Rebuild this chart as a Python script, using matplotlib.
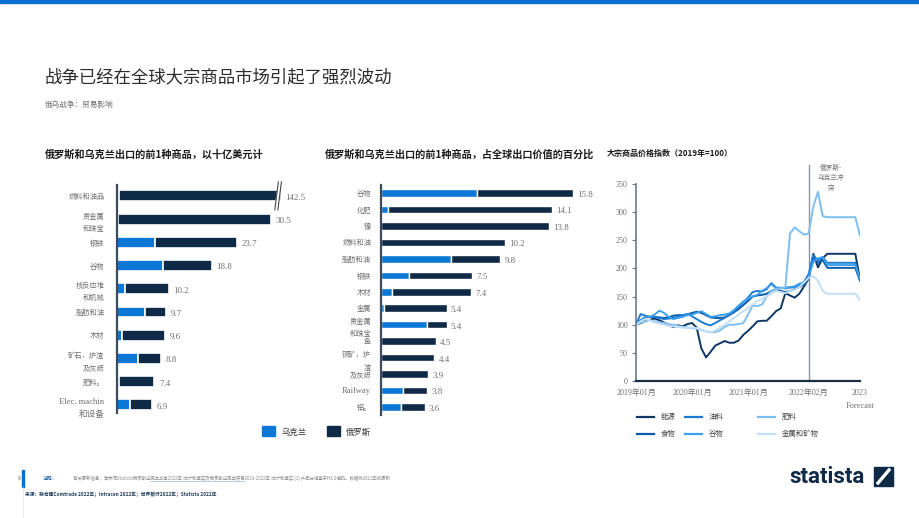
import matplotlib.pyplot as plt
import numpy as np
from matplotlib.patches import Rectangle, Polygon
from matplotlib.lines import Line2D

plt.rcParams['font.family'] = ['Noto Sans CJK SC', 'DejaVu Sans']
SERIF = ['Liberation Serif', 'Noto Sans CJK SC']

UA = '#0b78d6'
RU = '#0f2a47'
GRAY = '#6f6f6f'

# chart 1: top exports, billion USD
labels1 = ['燃料和油品', '贵金属\n和珠宝', '钢铁', '谷物', '核反应堆\n和机械', '脂肪和油',
           '木材', '矿石，炉渣\n及灰烬', '肥料。', 'Elec. machin\n和设备']
ua1 = [0.4, 0.1, 7.5, 9.2, 1.6, 5.5, 1.0, 4.2, 0.3, 2.6]
ru1 = [142.1, 30.4, 16.2, 9.6, 8.6, 4.2, 8.6, 4.6, 7.1, 4.3]

# chart 2: share of global export value, %
labels2 = ['谷物', '化肥', '镍', '燃料和油', '脂肪和油', '钢铁', '木材', '金属',
           '贵金属\n和珠宝', '鱼', '铜矿，炉\n渣', '及灰烬', 'Railway', '铝。']
ua2 = [7.9, 0.6, 0.0, 0.0, 5.8, 2.3, 0.9, 0.25, 3.8, 0.0, 0.0, 0.0, 1.8, 1.65]
ru2 = [7.9, 13.5, 13.8, 10.2, 4.0, 5.2, 6.5, 5.15, 1.6, 4.5, 4.4, 3.9, 2.0, 1.95]

# chart 3: commodity price index (2019=100), months from 2019-01
months = list(range(49))
energy = [100, 103, 107, 109, 111, 108, 104, 99, 96, 99, 97, 101,
          103, 95, 58, 42, 52, 63, 67, 71, 68, 68, 72, 82,
          89, 97, 106, 107, 107, 115, 124, 129, 156, 152, 148, 155,
          168, 182, 226, 202, 218, 226, 226, 226, 226, 226, 226, 226, 180]
food = [100, 108, 113, 114, 114, 113, 112, 113, 116, 117, 117, 118,
        121, 123, 121, 117, 113, 112, 112, 113, 117, 122, 128, 135,
        142, 150, 152, 153, 155, 160, 163, 160, 158, 160, 163, 167,
        172, 185, 220, 210, 215, 201, 201, 201, 201, 201, 201, 201, 178]
oils = [100, 119, 116, 114, 114, 112, 110, 111, 112, 114, 117, 119,
        115, 110, 105, 101, 99, 103, 108, 112, 118, 124, 132, 140,
        148, 158, 160, 159, 163, 174, 166, 165, 166, 166, 167, 170,
        176, 190, 224, 214, 220, 210, 210, 210, 210, 210, 210, 210, 179]
grain = [100, 108, 114, 114, 118, 125, 121, 114, 110, 112, 114, 117,
         118, 121, 124, 119, 114, 115, 117, 118, 120, 126, 134, 141,
         146, 150, 153, 160, 165, 172, 165, 166, 164, 167, 168, 173,
         174, 185, 212, 218, 220, 206, 206, 206, 206, 206, 206, 206, 182]
fert = [100, 104, 106, 108, 106, 104, 103, 101, 100, 98, 96, 95,
        94, 93, 91, 88, 87, 87, 90, 96, 100, 100, 101, 103,
        118, 134, 133, 136, 150, 160, 163, 165, 166, 262, 273, 266,
        260, 262, 310, 336, 293, 291, 291, 291, 291, 291, 291, 291, 258]
metals = [100, 106, 110, 108, 104, 102, 100, 98, 97, 96, 95, 94,
          95, 94, 91, 88, 86, 90, 95, 100, 106, 112, 118, 124,
          130, 136, 142, 146, 150, 155, 160, 158, 156, 160, 162, 167,
          175, 183, 186, 178, 160, 155, 155, 155, 155, 155, 155, 155, 144]
series = [('能源', energy, '#0d3766'), ('食物', food, '#0a5cab'),
          ('油料', oils, '#1c7bd3'), ('谷物', grain, '#3d9fec'),
          ('肥料', fert, '#7dbff2'), ('金属和矿物', metals, '#c4def6')]
xtick_pos = [0, 12, 24, 37, 48]
xtick_lab = ['2019年01月', '2020年01月', '2021年01月', '2022年02月', '2023']

fig = plt.figure(figsize=(9.2, 5.18), dpi=100)
W, H = 920, 518


def box(x0, y0, x1, y1):
    return [x0 / W, 1 - y1 / H, (x1 - x0) / W, (y1 - y0) / H]


# header
fig.add_artist(Rectangle((0, 1 - 3 / H), 1, 3 / H, transform=fig.transFigure, color='#0a6fd0'))
fig.text(45 / W, 1 - 77 / H, '战争已经在全球大宗商品市场引起了强烈波动', fontsize=12.5,
         color='#2b2b2b', va='center')
fig.text(45 / W, 1 - 105 / H, '俄乌战争：贸易影响', fontsize=5.5, color=GRAY, va='center')
fig.text(45 / W, 1 - 155 / H, '俄罗斯和乌克兰出口的前1种商品，以十亿美元计', fontsize=7.3,
         fontweight='bold', color='#1a1a1a', va='center')
fig.text(325 / W, 1 - 155 / H, '俄罗斯和乌克兰出口的前1种商品，占全球出口价值的百分比', fontsize=7.3,
         fontweight='bold', color='#1a1a1a', va='center')
fig.text(607 / W, 1 - 153 / H, '大宗商品价格指数（2019年=100）', fontsize=5.8,
         fontweight='bold', color='#1a1a1a', va='center')


def style_bar_ax(ax, labels, pad):
    for s in ['top', 'right', 'bottom']:
        ax.spines[s].set_visible(False)
    ax.spines['left'].set_color('#3d4a5c')
    ax.spines['left'].set_linewidth(1.6)
    ax.set_xticks([])
    ax.set_yticks(range(len(labels)))
    ax.set_yticklabels(labels, fontsize=5.2, color=GRAY, linespacing=1.8, family=SERIF)
    for t in ax.get_yticklabels():
        if t.get_text()[0].isascii():
            t.set_fontsize(6.2)
    ax.tick_params(axis='y', length=0, pad=pad)


# chart 1
ax1 = fig.add_axes(box(117, 185, 292, 413))
cap = 32.5
y1 = np.arange(len(labels1))
ua1a = np.array(ua1)
ru1a = np.array(ru1)
ru_draw = np.minimum(ru1a, cap - ua1a)
ax1.barh(y1, ua1a, height=0.47, color=UA, edgecolor='white', linewidth=1.2)
ax1.barh(y1, ru_draw, left=ua1a, height=0.47, color=RU, edgecolor='white', linewidth=1.2)
ax1.set_xlim(0, 34.65)
ax1.set_ylim(9.35, -0.47)
style_bar_ax(ax1, labels1, 9)
for i, (u, r) in enumerate(zip(ua1a, ru1a)):
    tot = u + r
    ax1.text(min(tot, cap) + 0.9, i + 0.08, f'{tot:.1f}', fontsize=6.5, color=GRAY,
             va='center', family=SERIF)
# break marks
ax1.add_patch(Polygon([[31.3, 0.55], [31.8, 0.55], [32.5, -0.55], [32.0, -0.55]],
                      closed=True, color='white', zorder=3, clip_on=False))
ax1.plot([31.25, 31.95], [0.6, -0.6], color='#444', lw=0.8, zorder=4, clip_on=False)
ax1.plot([31.85, 32.55], [0.6, -0.6], color='#444', lw=0.8, zorder=4, clip_on=False)

# chart 2
ax2 = fig.add_axes(box(381, 185, 581, 415))
y2 = np.arange(len(labels2))
ax2.barh(y2, ua2, height=0.46, color=UA, edgecolor='white', linewidth=1.0)
ax2.barh(y2, ru2, left=ua2, height=0.46, color=RU, edgecolor='white', linewidth=1.0)
ax2.set_xlim(0, 16.46)
ax2.set_ylim(13.49, -0.49)
style_bar_ax(ax2, labels2, 7)
for i, (u, r) in enumerate(zip(ua2, ru2)):
    ax2.text(u + r + 0.35, i + 0.12, f'{u + r:.1f}', fontsize=6.5, color=GRAY,
             va='center', family=SERIF)

# bar legend
fig.add_artist(Rectangle((262 / W, 1 - 436 / H), 13 / W, 10 / H, transform=fig.transFigure, color=UA))
fig.text(281 / W, 1 - 432 / H, '乌克兰', fontsize=6, color='#333', va='center')
fig.add_artist(Rectangle((327 / W, 1 - 436 / H), 13 / W, 10 / H, transform=fig.transFigure, color=RU))
fig.text(346 / W, 1 - 432 / H, '俄罗斯', fontsize=6, color='#333', va='center')

# chart 3
ax3 = fig.add_axes(box(636, 184, 860, 381))
for name, vals, col in series:
    ax3.plot(months, vals, color=col, lw=1.4, label=name)
ax3.set_xlim(0, 48)
ax3.set_ylim(0, 350)
ax3.set_yticks(range(0, 351, 50))
ax3.set_yticklabels([str(v) for v in range(0, 351, 50)], fontsize=5.8, color=GRAY, family=SERIF)
ax3.set_xticks(xtick_pos)
ax3.set_xticklabels(xtick_lab, fontsize=5.8, color=GRAY, family=SERIF)
ax3.tick_params(axis='y', length=3, width=0.8, color='#6b7a8a', pad=3)
ax3.tick_params(axis='x', length=0, pad=6)
for s in ['top', 'right']:
    ax3.spines[s].set_visible(False)
ax3.spines['left'].set_color('#6b7a8a')
ax3.spines['left'].set_linewidth(1.2)
ax3.spines['bottom'].set_color('#1b2c44')
ax3.spines['bottom'].set_linewidth(1.6)
ax3.axvline(37, ymin=0, ymax=1.096, color='#8a96a3', lw=1, clip_on=False, zorder=0)
ax3.text(41.7, 386, '俄罗斯-\n乌克兰冲\n突', fontsize=4.8, color=GRAY, ha='center', va='top',
         linespacing=1.4)
ax3.text(48, -44, 'Forecast', fontsize=6, color=GRAY, ha='center', va='center', family=SERIF)

# line legend (manual, three columns)
leg_cols = [637, 685, 758]
leg_rows = [417, 434]
for k, (name, vals, col) in enumerate(series):
    lx = leg_cols[k // 2]
    ly = 1 - leg_rows[k % 2] / H
    fig.add_artist(Line2D([lx / W, (lx + 17) / W], [ly, ly], transform=fig.transFigure,
                          color=col, lw=1.6))
    fig.text((lx + 24) / W, ly, name, fontsize=5.3, color='#444', va='center')

# footer
fig.add_artist(Rectangle((22 / W, 1 - 487 / H), 2 / W, 17 / H, transform=fig.transFigure, color='#0a6fd0'))
fig.add_artist(Line2D([23 / W, 23 / W], [0, 1 - 487 / H], transform=fig.transFigure,
                      color='#e4e4e4', lw=0.5))
fig.text(18 / W, 1 - 478 / H, '9', fontsize=3.5, color='#555', va='center')
fig.text(43 / W, 1 - 478 / H, '注释：', fontsize=3.5, color='#0a4f9a', va='center')
fig.text(73 / W, 1 - 478 / H,
         '有关最新信息，请参阅Statista俄罗斯乌克兰战争2022年-统计和事实及俄罗斯乌克兰贸易2021-2022年-'
         '统计和事实 (1) 产品分组基于HS 2编码。数据为2021年或最新',
         fontsize=3.2, color='#888', va='center')
fig.add_artist(Line2D([150 / W, 245 / W], [1 - 481 / H, 1 - 481 / H], transform=fig.transFigure,
                      color='#7aa7d6', lw=0.4))
fig.text(25 / W, 1 - 494 / H,
         '来源：联合国Comtrade 2022年；Intracen 2022年；世界银行2022年；Statista 2022年',
         fontsize=3.4, color='#1f3a5a', fontweight='bold', va='center')
fig.text(789 / W, 1 - 477 / H, 'statista', fontsize=16, fontweight='bold', color=RU,
         va='center', family=['Roboto', 'DejaVu Sans'])
fig.add_artist(Rectangle((874 / W, 1 - 486 / H), 19 / W, 19 / H, transform=fig.transFigure, color=RU))
fig.add_artist(Line2D([878 / W, 889 / W], [1 - 483 / H, 1 - 470 / H], transform=fig.transFigure,
                      color='white', lw=2.4))

fig.savefig('out.png', dpi=100)
